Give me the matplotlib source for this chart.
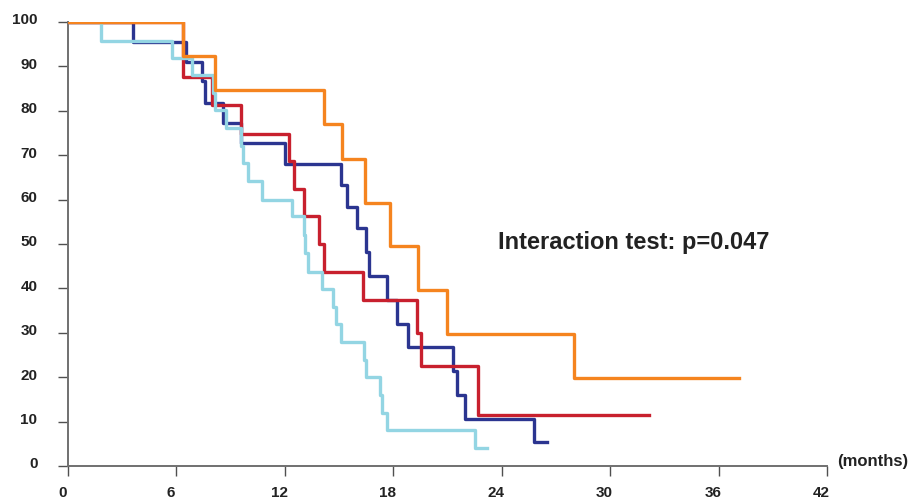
import numpy as np
import matplotlib
matplotlib.use('Agg')
import matplotlib.pyplot as plt
import matplotlib.transforms as mtransforms

# Kaplan-Meier style step curves (time in months, survival %)
orange_t = [0, 6.38, 8.15, 14.15, 15.18, 16.45, 17.8, 19.39, 20.96, 28.0, 37.13]
orange_s = [100, 92.3, 84.6, 77.0, 69.1, 59.3, 49.5, 39.6, 29.7, 19.75, 19.75]

navy_t = [0, 3.58, 6.51, 7.4, 7.58, 8.6, 9.58, 12.0, 15.08, 15.45, 16.0, 16.5,
          16.66, 17.66, 18.2, 18.83, 21.32, 21.51, 21.97, 25.79, 26.49]
navy_s = [100, 95.5, 91.1, 86.6, 81.7, 77.2, 72.7, 68.0, 63.4, 58.4, 53.5, 48.2,
          42.8, 37.5, 32.0, 26.9, 21.5, 16.1, 10.6, 5.4, 5.4]

red_t = [0, 6.38, 7.97, 9.57, 12.25, 12.48, 13.07, 13.88, 14.17, 16.3, 19.33,
         19.52, 22.71, 32.17]
red_s = [100, 87.5, 81.2, 74.8, 68.6, 62.4, 56.2, 50.0, 43.7, 37.5, 30.0,
         22.5, 11.4, 11.4]

cyan_t = [0, 1.83, 5.77, 6.85, 8.04, 8.13, 8.72, 9.55, 9.67, 9.98, 10.72, 12.38,
          13.04, 13.1, 13.3, 14.04, 14.68, 14.83, 15.09, 16.4, 16.49, 17.27,
          17.39, 17.64, 22.5, 23.17]
cyan_s = [100, 95.8, 92.0, 88.0, 84.0, 80.2, 76.1, 72.0, 68.2, 64.1, 59.9, 56.2,
          52.0, 47.9, 43.8, 39.9, 35.9, 31.9, 28.0, 23.9, 20.0, 16.0,
          12.0, 8.0, 4.0, 4.0]

xticks = [0, 6, 12, 18, 24, 30, 36, 42]
yticks = [0, 10, 20, 30, 40, 50, 60, 70, 80, 90, 100]

fig = plt.figure(figsize=(9.11, 5.01), dpi=100)
ax = fig.add_axes([68 / 911, 1 - 466 / 501, (827 - 68) / 911, (466 - 22) / 501])

lw = 2.4
ax.step(navy_t, navy_s, where='post', color='#2b3590', lw=lw, zorder=3)
ax.step(red_t, red_s, where='post', color='#c8202e', lw=lw, zorder=4)
ax.step(cyan_t, cyan_s, where='post', color='#93d5e3', lw=lw, zorder=5)
ax.step(orange_t, orange_s, where='post', color='#f5841f', lw=lw, zorder=6)

ax.set_xlim(0, 42)
ax.set_ylim(0, 100)
ax.set_xticks(xticks)
ax.set_yticks(yticks)

for side in ['top', 'right']:
    ax.spines[side].set_visible(False)
for side in ['left', 'bottom']:
    ax.spines[side].set_color('#707070')
    ax.spines[side].set_linewidth(1.4)

ax.tick_params(axis='both', direction='out', length=7, width=1.0, color='#505050',
               labelsize=11, labelcolor='#222222')
ax.tick_params(axis='y', pad=15)
ax.tick_params(axis='x', pad=7.5)

font = ['Liberation Sans', 'DejaVu Sans']
for lab in ax.get_xticklabels() + ax.get_yticklabels():
    lab.set_fontfamily(font)
    lab.set_fontweight('bold')

xshift = mtransforms.ScaledTranslation(-5.5 / 100, 0, fig.dpi_scale_trans)
for lab in ax.get_xticklabels():
    lab.set_transform(lab.get_transform() + xshift)
yshift = mtransforms.ScaledTranslation(0, 3 / 100, fig.dpi_scale_trans)
for lab in ax.get_yticklabels():
    lab.set_transform(lab.get_transform() + yshift)

ax.text(42.55, 1.0, '(months)', fontsize=12, fontweight='bold', family=font,
        color='#222222', ha='left', va='center', clip_on=False)

ax.text(23.8, 50.4, 'Interaction test: p=0.047', fontsize=17, fontweight='bold',
        family=font, color='#222222', ha='left', va='center')

fig.savefig('out.png', dpi=100)
